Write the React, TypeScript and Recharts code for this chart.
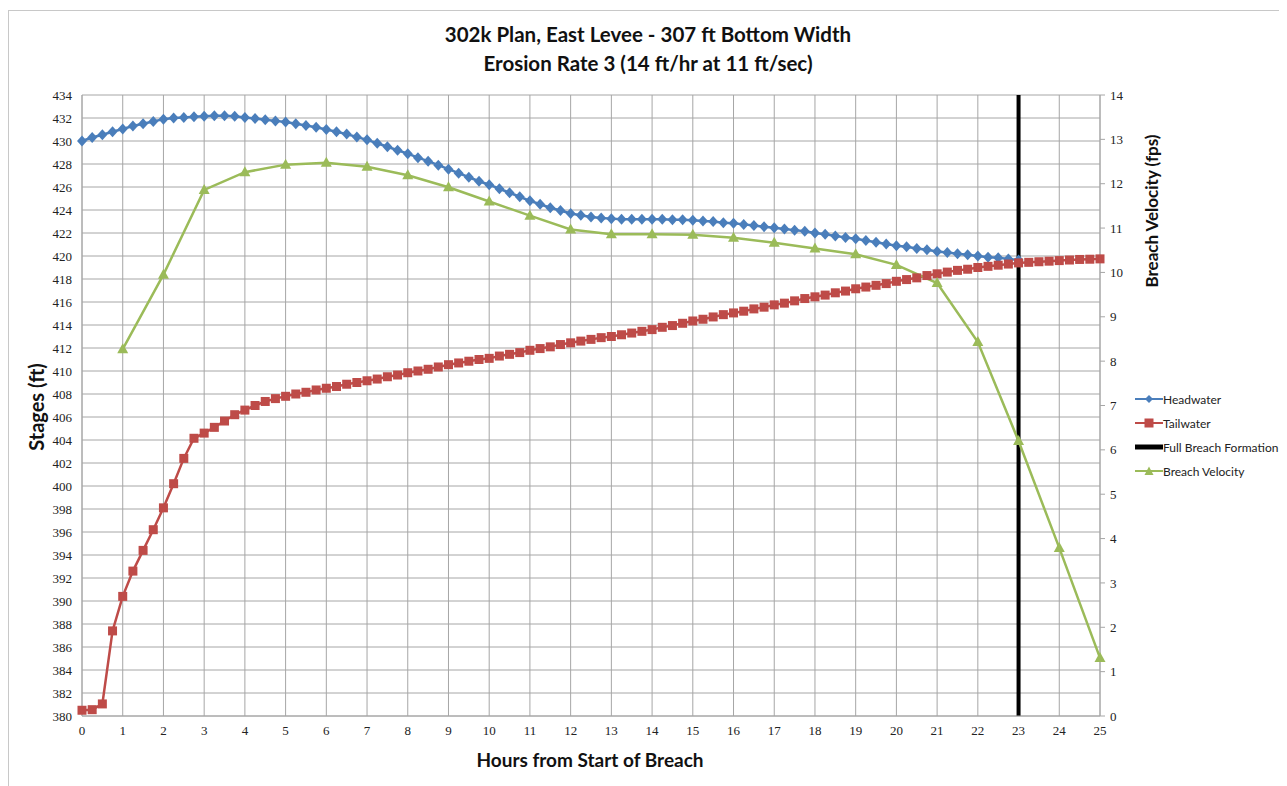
import React from "react";
import { LineChart, Line, XAxis, YAxis, CartesianGrid, ReferenceLine } from "recharts";

// Time axis: hours from start of breach, quarter-hour steps
const hours = [
  0, 0.25, 0.5, 0.75, 1, 1.25, 1.5, 1.75, 2, 2.25, 2.5, 2.75, 3, 3.25, 3.5, 3.75,
  4, 4.25, 4.5, 4.75, 5, 5.25, 5.5, 5.75, 6, 6.25, 6.5, 6.75, 7, 7.25, 7.5, 7.75,
  8, 8.25, 8.5, 8.75, 9, 9.25, 9.5, 9.75, 10, 10.25, 10.5, 10.75, 11, 11.25, 11.5, 11.75,
  12, 12.25, 12.5, 12.75, 13, 13.25, 13.5, 13.75, 14, 14.25, 14.5, 14.75, 15, 15.25, 15.5, 15.75,
  16, 16.25, 16.5, 16.75, 17, 17.25, 17.5, 17.75, 18, 18.25, 18.5, 18.75, 19, 19.25, 19.5, 19.75,
  20, 20.25, 20.5, 20.75, 21, 21.25, 21.5, 21.75, 22, 22.25, 22.5, 22.75, 23, 23.25, 23.5, 23.75,
  24, 24.25, 24.5, 24.75, 25,
];

// Headwater stage (ft), recorded up to full breach formation
const headwater = [
  430.0, 430.3, 430.55, 430.8, 431.05, 431.3, 431.5, 431.7, 431.9, 432.0, 432.05, 432.1, 432.15, 432.2, 432.2, 432.15,
  432.05, 431.95, 431.85, 431.75, 431.65, 431.5, 431.35, 431.2, 431.0, 430.8, 430.6, 430.35, 430.1, 429.8, 429.5, 429.2,
  428.9, 428.55, 428.25, 427.9, 427.55, 427.2, 426.85, 426.5, 426.2, 425.85, 425.5, 425.15, 424.8, 424.5, 424.2, 423.95,
  423.7, 423.55, 423.4, 423.3, 423.25, 423.2, 423.2, 423.2, 423.2, 423.2, 423.15, 423.15, 423.1, 423.05, 423.0, 422.9,
  422.85, 422.75, 422.65, 422.55, 422.45, 422.35, 422.25, 422.15, 422.0, 421.9, 421.75, 421.6, 421.5, 421.35, 421.2, 421.05,
  420.9, 420.8, 420.65, 420.55, 420.4, 420.3, 420.2, 420.1, 420.0, 419.9, 419.85, 419.75, 419.65,
];

// Tailwater stage (ft)
const tailwater = [
  380.5, 380.55, 381.05, 387.4, 390.4, 392.6, 394.4, 396.2, 398.1, 400.2, 402.4, 404.15, 404.6, 405.1, 405.65, 406.2,
  406.6, 407.0, 407.35, 407.6, 407.8, 408.0, 408.15, 408.35, 408.5, 408.65, 408.85, 409.0, 409.15, 409.3, 409.5, 409.65,
  409.85, 410.0, 410.15, 410.35, 410.55, 410.7, 410.85, 411.0, 411.1, 411.3, 411.45, 411.6, 411.8, 411.95, 412.1, 412.3,
  412.45, 412.6, 412.75, 412.9, 413.0, 413.15, 413.3, 413.45, 413.6, 413.8, 413.95, 414.15, 414.35, 414.5, 414.7, 414.9,
  415.05, 415.2, 415.4, 415.55, 415.75, 415.9, 416.1, 416.3, 416.45, 416.6, 416.8, 416.95, 417.15, 417.3, 417.45, 417.6,
  417.8, 417.95, 418.1, 418.3, 418.45, 418.6, 418.75, 418.85, 419.0, 419.1, 419.2, 419.3, 419.4, 419.45, 419.5, 419.55,
  419.6, 419.65, 419.7, 419.72, 419.75,
];

// Breach velocity (fps), hourly
const velocityHours = [1, 2, 3, 4, 5, 6, 7, 8, 9, 10, 11, 12, 13, 14, 15, 16, 17, 18, 19, 20, 21, 22, 23, 24, 25];
const velocity = [
  8.27, 9.95, 11.86, 12.26, 12.43, 12.47, 12.38, 12.19, 11.92, 11.6, 11.28, 10.97, 10.86, 10.86, 10.85, 10.78,
  10.67, 10.54, 10.41, 10.17, 9.76, 8.43, 6.2, 3.79, 1.31,
];

const fullBreachHour = 23;

const xTicks = [0, 1, 2, 3, 4, 5, 6, 7, 8, 9, 10, 11, 12, 13, 14, 15, 16, 17, 18, 19, 20, 21, 22, 23, 24, 25];
const stageTicks = [
  380, 382, 384, 386, 388, 390, 392, 394, 396, 398, 400, 402, 404, 406, 408, 410, 412, 414, 416, 418, 420, 422,
  424, 426, 428, 430, 432, 434,
];
const velocityTicks = [0, 1, 2, 3, 4, 5, 6, 7, 8, 9, 10, 11, 12, 13, 14];

const BLUE = "#4a7ebb";
const RED = "#be4b48";
const GREEN = "#9bbb59";

const rows = hours.map((h, i) => {
  const vi = velocityHours.indexOf(h);
  return {
    hour: h,
    headwater: i < headwater.length ? headwater[i] : null,
    tailwater: tailwater[i],
    velocity: vi >= 0 ? velocity[vi] : null,
  };
});

const DiamondDot = (p: any) => {
  if (p.cx == null || p.cy == null || p.value == null) return <g key={`hw-${p.index}`} />;
  const { cx, cy } = p;
  return (
    <polygon
      key={`hw-${p.index}`}
      points={`${cx},${cy - 5.5} ${cx + 5},${cy} ${cx},${cy + 5.5} ${cx - 5},${cy}`}
      fill={BLUE}
    />
  );
};

const SquareDot = (p: any) => {
  if (p.cx == null || p.cy == null || p.value == null) return <g key={`tw-${p.index}`} />;
  return <rect key={`tw-${p.index}`} x={p.cx - 4.5} y={p.cy - 4.5} width={9} height={9} fill={RED} />;
};

const TriangleDot = (p: any) => {
  if (p.cx == null || p.cy == null || p.value == null) return <g key={`bv-${p.index}`} />;
  const { cx, cy } = p;
  return (
    <polygon
      key={`bv-${p.index}`}
      points={`${cx},${cy - 6} ${cx + 5.5},${cy + 4} ${cx - 5.5},${cy + 4}`}
      fill={GREEN}
    />
  );
};

const tickFont = { fontFamily: "'Liberation Serif', serif", fontSize: 13, fill: "#222" };
const sansBold = { fontFamily: "Lato, 'Open Sans', sans-serif", fontWeight: 700, color: "#111" };

const legendItems = [
  { label: "Headwater", color: BLUE, marker: "diamond" },
  { label: "Tailwater", color: RED, marker: "square" },
  { label: "Full Breach Formation", color: "#000", marker: "thick" },
  { label: "Breach Velocity", color: GREEN, marker: "triangle" },
];

const LegendSample = ({ color, marker }: { color: string; marker: string }) => (
  <svg width={28} height={12} style={{ display: "block" }}>
    <line x1={0} y1={6} x2={28} y2={6} stroke={color} strokeWidth={marker === "thick" ? 5 : 2} />
    {marker === "diamond" && <polygon points="14,2 18,6 14,10 10,6" fill={color} />}
    {marker === "square" && <rect x={9.5} y={1.5} width={9} height={9} fill={color} />}
    {marker === "triangle" && <polygon points="14,1.5 18.5,10 9.5,10" fill={color} />}
  </svg>
);

export default function App() {
  return (
    <div style={{ position: "relative", width: 1279, height: 778, background: "#fff" }}>
      {/* chart frame */}
      <div
        style={{
          position: "absolute",
          left: 0,
          top: 2,
          width: 1290,
          height: 790,
          borderLeft: "1px solid #c8c8c8",
          borderTop: "1px solid #c8c8c8",
        }}
      />
      <div
        style={{
          position: "absolute",
          left: 0,
          top: 12,
          width: 1280,
          textAlign: "center",
          fontSize: 20.5,
          lineHeight: "29px",
          ...sansBold,
        }}
      >
        <div>302k Plan, East Levee - 307 ft Bottom Width</div>
        <div>Erosion Rate 3 (14 ft/hr at 11 ft/sec)</div>
      </div>

      <div style={{ position: "absolute", left: 0, top: 0 }}>
        <LineChart
          width={1279}
          height={778}
          data={rows}
          margin={{ top: 87, right: 147, bottom: 40, left: 14 }}
        >
          <CartesianGrid yAxisId="left" stroke="#a6a6a6" strokeWidth={1} />
          <XAxis
            dataKey="hour"
            type="number"
            domain={[0, 25]}
            ticks={xTicks}
            interval={0}
            stroke="#a6a6a6"
            tickLine={false}
            tickSize={4}
            tickMargin={6}
            height={30}
            tick={tickFont}
          />
          <YAxis
            yAxisId="left"
            domain={[380, 434]}
            ticks={stageTicks}
            interval={0}
            stroke="#a6a6a6"
            tickLine={false}
            tickSize={5}
            tickMargin={5}
            width={60}
            tick={tickFont}
          />
          <YAxis
            yAxisId="right"
            orientation="right"
            domain={[0, 14]}
            ticks={velocityTicks}
            interval={0}
            stroke="#a6a6a6"
            tickSize={5}
            tickMargin={5}
            width={40}
            tick={tickFont}
          />
          <ReferenceLine yAxisId="left" x={fullBreachHour} stroke="#000" strokeWidth={4} />
          <Line
            yAxisId="left"
            dataKey="headwater"
            stroke={BLUE}
            strokeWidth={2.5}
            dot={DiamondDot}
            activeDot={false}
            isAnimationActive={false}
          />
          <Line
            yAxisId="left"
            dataKey="tailwater"
            stroke={RED}
            strokeWidth={2.5}
            dot={SquareDot}
            activeDot={false}
            isAnimationActive={false}
          />
          <Line
            yAxisId="right"
            dataKey="velocity"
            stroke={GREEN}
            strokeWidth={2.5}
            connectNulls
            dot={TriangleDot}
            activeDot={false}
            isAnimationActive={false}
          />
        </LineChart>
      </div>

      {/* axis titles */}
      <div
        style={{
          position: "absolute",
          left: 28 - 70,
          top: 399 - 13,
          width: 140,
          height: 26,
          textAlign: "center",
          transform: "rotate(-90deg)",
          fontSize: 20,
          lineHeight: "26px",
          ...sansBold,
        }}
      >
        Stages (ft)
      </div>
      <div
        style={{
          position: "absolute",
          left: 1144 - 100,
          top: 203 - 11,
          width: 200,
          height: 22,
          textAlign: "center",
          transform: "rotate(-90deg)",
          fontSize: 17,
          lineHeight: "22px",
          ...sansBold,
        }}
      >
        Breach Velocity (fps)
      </div>
      <div
        style={{
          position: "absolute",
          left: 382,
          top: 739,
          width: 400,
          textAlign: "center",
          fontSize: 19,
          lineHeight: "26px",
          ...sansBold,
        }}
      >
        Hours from Start of Breach
      </div>

      {/* legend */}
      <div style={{ position: "absolute", left: 1127, top: 379 }}>
        {legendItems.map((it) => (
          <div key={it.label} style={{ display: "flex", alignItems: "center", height: 24 }}>
            <LegendSample color={it.color} marker={it.marker} />
            <span
              style={{
                fontFamily: "Lato, 'Open Sans', sans-serif",
                fontSize: 12,
                color: "#222",
                whiteSpace: "nowrap",
              }}
            >
              {it.label}
            </span>
          </div>
        ))}
      </div>
    </div>
  );
}
